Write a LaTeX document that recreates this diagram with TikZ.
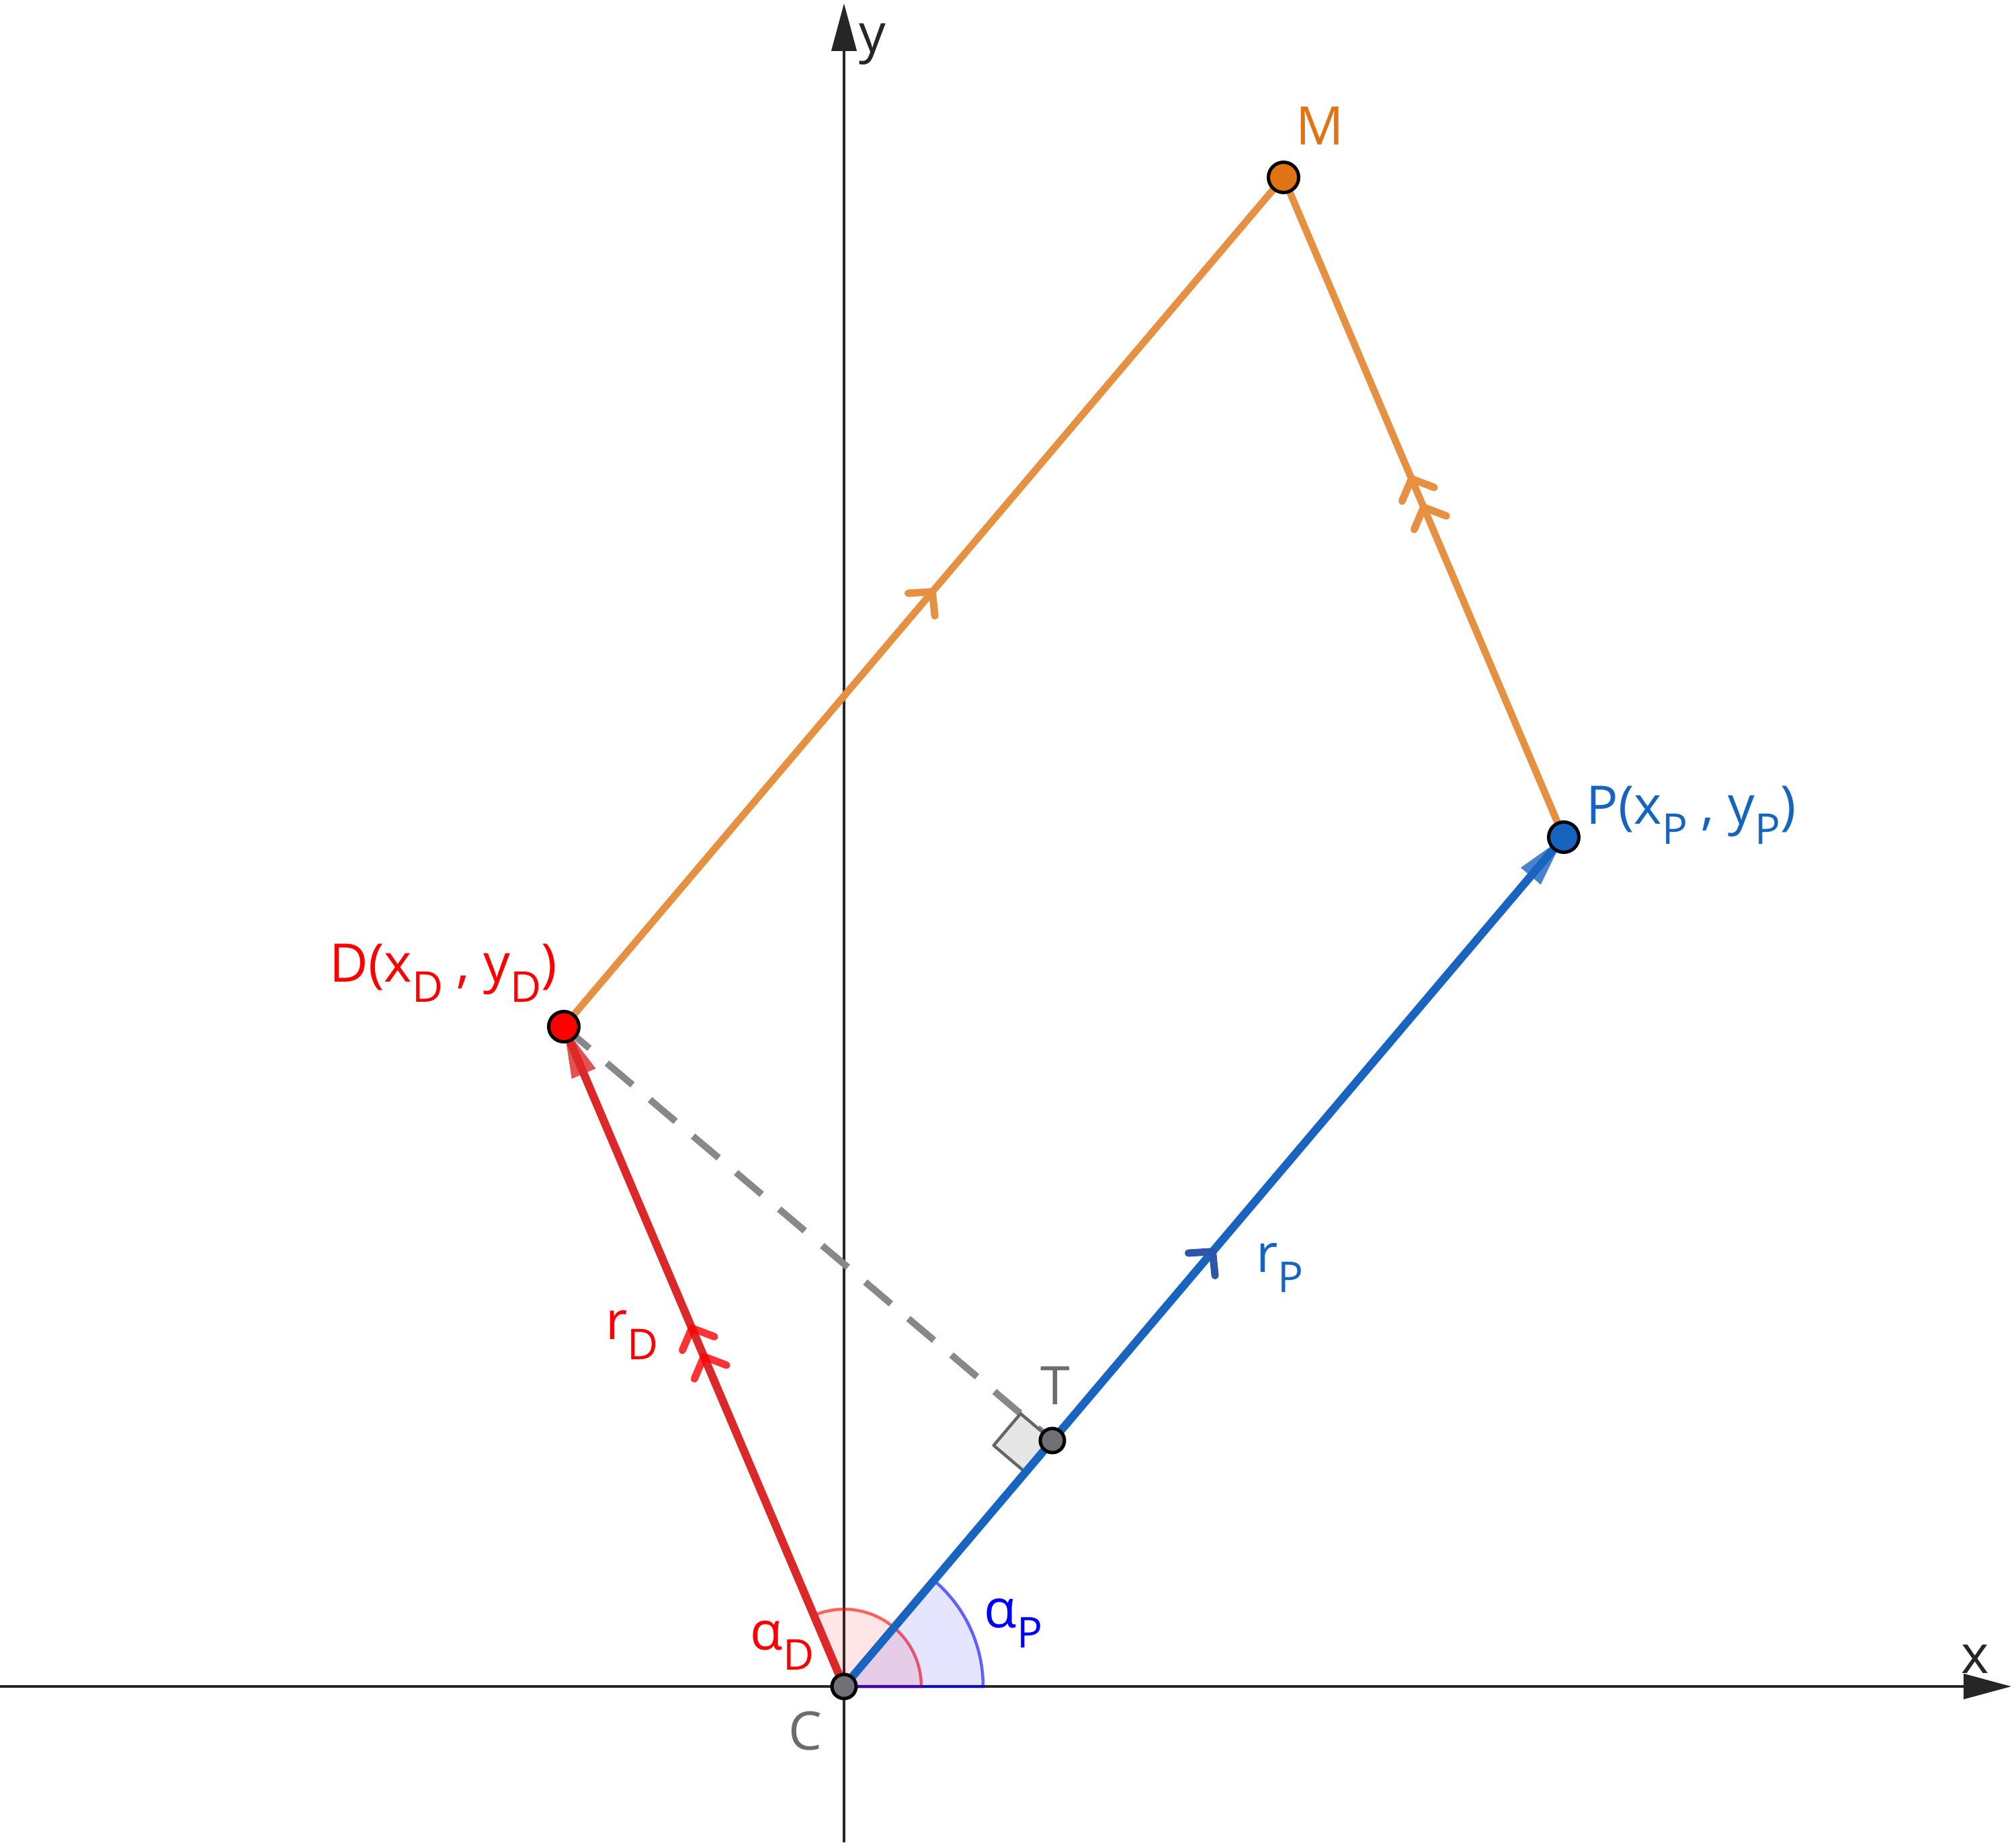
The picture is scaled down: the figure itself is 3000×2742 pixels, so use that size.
\documentclass[tikz,border=0pt]{standalone}
\usepackage{fontspec}
\setmainfont{Open Sans}
\usetikzlibrary{calc,arrows.meta}

\definecolor{axiscol}{RGB}{38,38,38}
\definecolor{redvec}{RGB}{220,40,40}
\definecolor{bluevec}{RGB}{25,100,192}
\definecolor{bluemark}{RGB}{45,85,170}
\definecolor{orangeln}{RGB}{230,145,65}
\definecolor{mfill}{RGB}{224,116,20}
\definecolor{pfill}{RGB}{21,101,192}
\definecolor{grayfill}{RGB}{112,112,118}
\definecolor{graytext}{RGB}{108,108,112}
\definecolor{dashcol}{RGB}{136,136,140}
\definecolor{sqfill}{RGB}{230,230,230}
\definecolor{sqdraw}{RGB}{102,102,102}

\newcommand\lblfont{\fontsize{22.5pt}{26pt}\selectfont}
\newcommand\sbs[1]{\raisebox{-3mm}{\fontsize{18pt}{20pt}\selectfont #1}}

\tikzset{
  axisline/.style={draw=axiscol, line width=0.45mm, -{Triangle[length=7.1mm,width=3.7mm]}},
  vecline/.style={line width=1.2mm},
  segline/.style={draw=orangeln, line width=1.05mm},
  dashline/.style={draw=dashcol, line width=1mm, dash pattern=on 5mm off 3.4mm},
  bigpt/.style={circle, draw=black, line width=0.5mm, minimum size=4.5mm, inner sep=0pt},
  smallpt/.style={circle, draw=black, line width=0.5mm, minimum size=3.6mm, inner sep=0pt, fill=grayfill},
  lab/.style={anchor=base west, inner sep=0pt, font=\lblfont},
  chev/.pic={\draw[pic actions, line cap=round, line join=round] (-2.5mm,2.6mm) -- (0,0) -- (-2.5mm,-2.6mm);},
  markstyle/.style={line width=1.1mm},
}

\begin{document}
\begin{tikzpicture}[x=0.1mm,y=0.1mm]
\useasboundingbox (-1256,-232) rectangle (1744,2510);
\fill[white] (-1256,-232) rectangle (1744,2510);

% points
\coordinate (C) at (0,0);
\coordinate (D) at (-417,982);
\coordinate (P) at (1071,1264);
\coordinate (M) at (654,2246);
\coordinate (T) at (310,366);
\coordinate (xL) at (-1256,0);
\coordinate (xR) at (1737,0);
\coordinate (yB) at (0,-232);
\coordinate (yT) at (0,2505);

% axes
\draw[axisline] (xL) -- (xR);
\draw[axisline] (yB) -- (yT);

% angle sectors
\filldraw[fill=red, fill opacity=0.1, draw=red, draw opacity=0.6, line width=0.45mm]
  (C) -- ++(11.5mm,0) arc[start angle=0, end angle=113.0, radius=11.5mm] -- cycle;
\filldraw[fill=blue, fill opacity=0.1, draw=blue, draw opacity=0.6, line width=0.45mm]
  (C) -- ++(20.7mm,0) arc[start angle=0, end angle=49.72, radius=20.7mm] -- cycle;

% orange segments
\draw[segline] (D) -- (M);
\draw[segline] (P) -- (M);

% dashed perpendicular
\draw[dashline] (D) -- (T);

% right angle marker
\coordinate (s1) at ($(T)!6.2mm!(D)$);
\coordinate (s3) at ($(T)!6.2mm!(C)$);
\coordinate (s2) at ($(s1)+(s3)-(T)$);
\filldraw[fill=sqfill, draw=sqdraw, line width=0.45mm, line join=round] (T) -- (s1) -- (s2) -- (s3) -- cycle;

% vectors
\draw[vecline, draw=redvec] (C) -- (D);
\draw[vecline, draw=bluevec] (C) -- (P);
\coordinate (hD) at ($(D)!7.6mm!(C)$);
\coordinate (hP) at ($(P)!7.6mm!(C)$);
\fill[redvec, fill opacity=0.8] (D) -- ($(hD)!1.95mm!90:(C)$) -- ($(hD)!1.95mm!-90:(C)$) -- cycle;
\fill[bluevec, fill opacity=0.8] (P) -- ($(hP)!1.95mm!90:(C)$) -- ($(hP)!1.95mm!-90:(C)$) -- cycle;

% equal-vector marks
\pic[rotate=113.0, draw=red, draw opacity=0.8, markstyle] at ($(C)!0.5!(D)$) {chev};
\pic[rotate=113.0, draw=red, draw opacity=0.8, markstyle] at ($(C)!0.5!(D)!4.6mm!(D)$) {chev};
\pic[rotate=113.0, draw=orangeln, markstyle] at ($(P)!0.5!(M)$) {chev};
\pic[rotate=113.0, draw=orangeln, markstyle] at ($(P)!0.5!(M)!4.6mm!(M)$) {chev};
\pic[rotate=49.72, draw=bluemark, markstyle] at ($(C)!0.5!(P)!2mm!(P)$) {chev};
\pic[rotate=49.72, draw=orangeln, markstyle] at ($(D)!0.5!(M)!2mm!(M)$) {chev};

% point markers
\node[bigpt, fill=red] (Ddot) at (D) {};
\node[bigpt, fill=pfill] (Pdot) at (P) {};
\node[bigpt, fill=mfill] (Mdot) at (M) {};
\node[smallpt] (Tdot) at (T) {};
\node[smallpt] (Cdot) at (C) {};

% labels
\node[lab, text=pfill] (Plab) at (1104,1283) {P(x\sbs{P} , y\sbs{P})};
\node[lab, text=red] (Dlab) at (-766,1048) {D(x\sbs{D} , y\sbs{D})};
\node[lab, text=mfill] (Mlab) at (672,2294) {M};
\node[lab, text=graytext] (Tlab) at (292,420) {T};
\node[lab, text=graytext] (Clab) at (-83,-94) {C};
\node[lab, text=axiscol] (ylab) at (22,2432) {y};
\node[lab, text=axiscol] (xlab) at (1662,20) {x};
\node[lab, text=red] (rDlab) at (-355,517) {r\sbs{D}};
\node[lab, text=pfill] (rPlab) at (613,617) {r\sbs{P}};
\node[lab, text=blue] (aPlab) at (208,88) {α\sbs{P}};
\node[lab, text=red] (aDlab) at (-140,55) {α\sbs{D}};
\end{tikzpicture}
\end{document}
